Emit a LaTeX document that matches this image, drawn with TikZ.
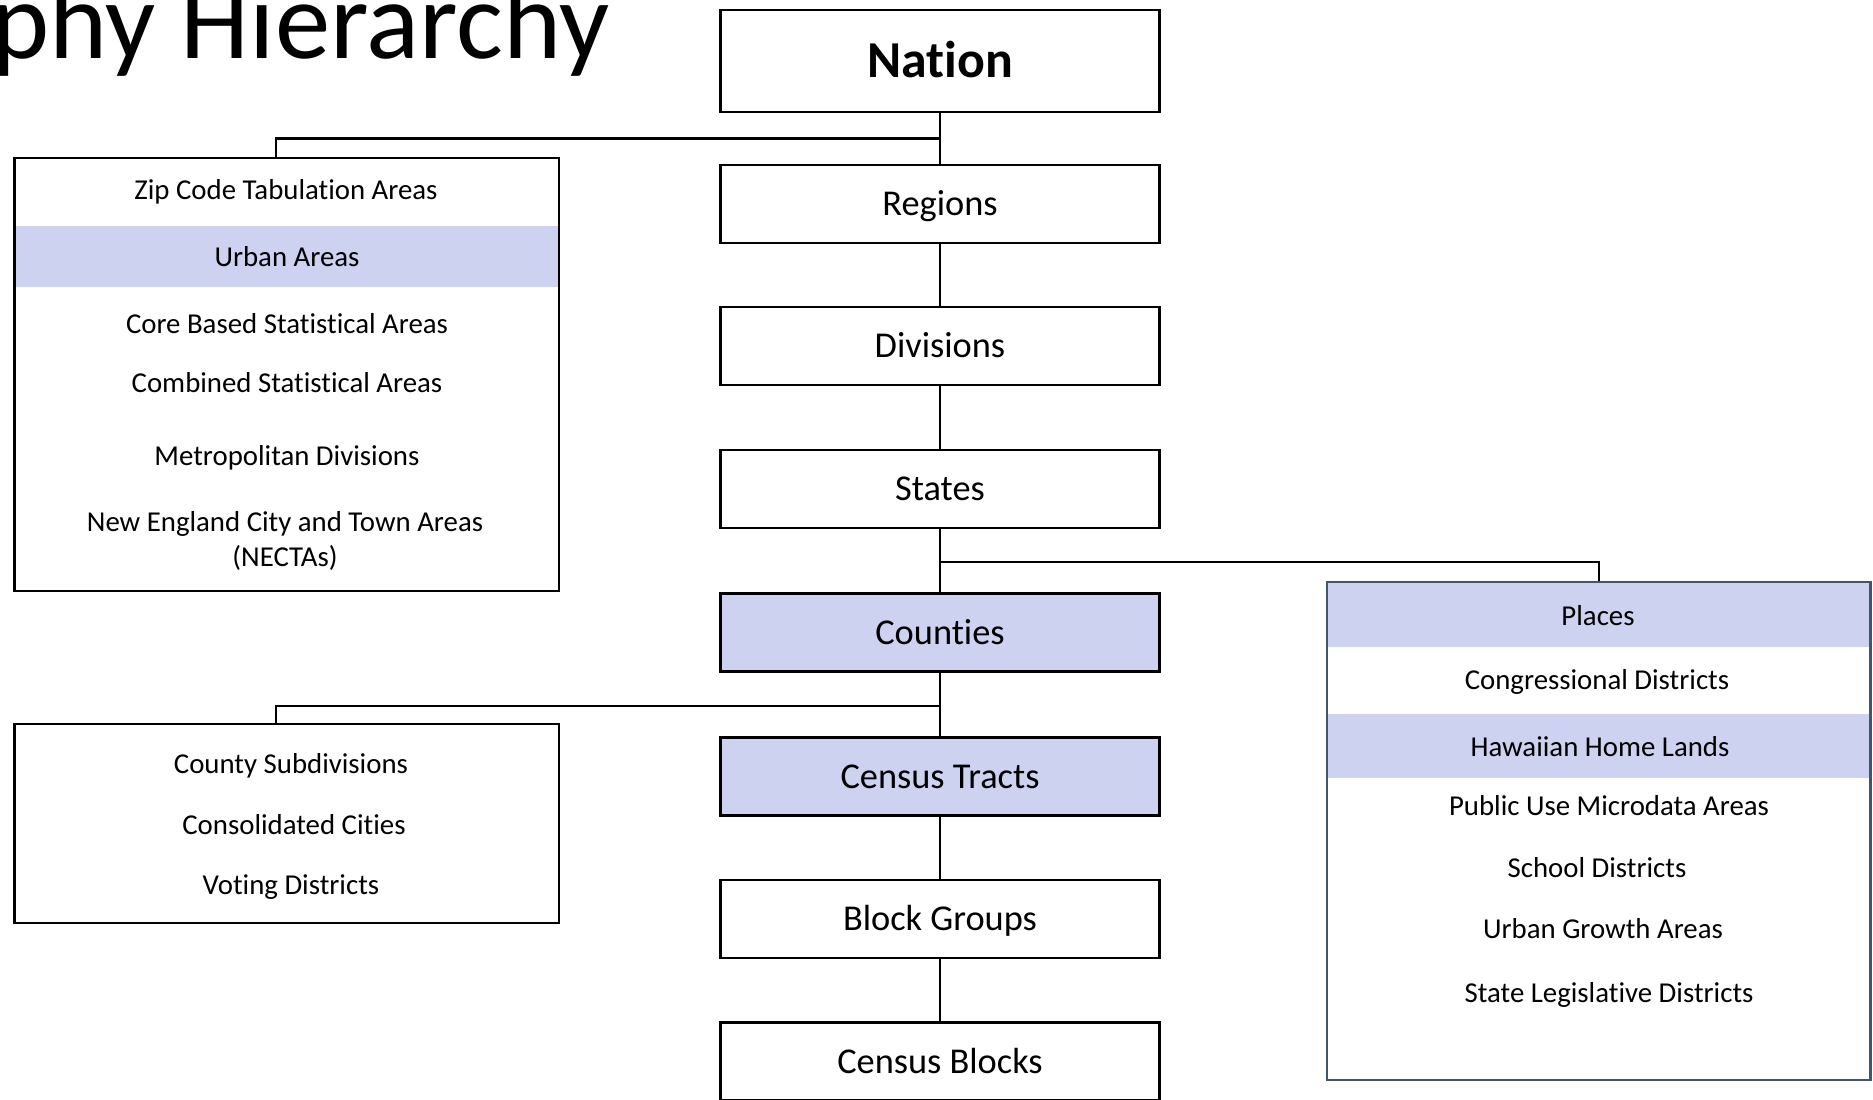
\documentclass[tikz,border=0pt]{standalone}
\usepackage{fontspec}
\setmainfont[Ligatures={NoCommon}]{Carlito}
\usepackage{tikz}
\usetikzlibrary{positioning}
\usepackage{xcolor}
\definecolor{bandblue}{RGB}{204,210,239}
\definecolor{slateedge}{RGB}{68,84,106}
\tikzset{
    tierbox/.style={
        draw,
        rectangle,
        line width=1.3pt,
        minimum width=8.78cm,
        minimum height=1.56cm,
        inner sep=0pt,
        text height=13.3pt,
        text depth=0pt,
        font=\fontsize{20.7}{24.8}\selectfont
    },
    topbox/.style={
        tierbox,
        minimum height=2.05cm,
        text height=19pt,
        font=\bfseries\fontsize{29.5}{35}\selectfont
    },
    shaded/.style={fill=bandblue},
    groupbox/.style={draw, rectangle, line width=1.3pt, inner sep=0pt},
    itemtext/.style={
        inner sep=0pt,
        text height=10.6pt,
        text depth=0pt,
        font=\fontsize{16.4}{19.7}\selectfont
    },
    link/.style={draw, line width=1.3pt},
    titletext/.style={inner sep=0pt, font=\fontsize{63}{75}\selectfont}
}

\begin{document}
\begin{tikzpicture}[x=0.02cm, y=-0.02cm]
    \useasboundingbox (0,0) rectangle (1873,1099);
    \clip (0,0) rectangle (1873,1099);

    % Title, cut off at the page edge
    \node[titletext, anchor=base east] (title) at (610,58) {phy Hierarchy};

    % Main chain of levels
    \node[topbox] (nation) at (940,61) {Nation};
    \node[tierbox] (regions) at (940,204) {Regions};
    \node[tierbox] (divisions) at (940,346) {Divisions};
    \node[tierbox] (states) at (940,489) {States};
    \node[tierbox, shaded] (counties) at (940,632.5) {Counties};
    \node[tierbox, shaded] (tracts) at (940,776.5) {Census Tracts};
    \node[tierbox] (groups) at (940,919) {Block Groups};
    \node[tierbox] (blocks) at (940,1061.5) {Census Blocks};

    % Highlight bands inside the side boxes
    \fill[bandblue] (15,226) rectangle (558,287);
    \fill[bandblue] (1328,583) rectangle (1870,647);
    \fill[bandblue] (1328,714) rectangle (1870,778);

    % Side boxes
    \node[groupbox, minimum width=10.89cm, minimum height=8.67cm] (metrobox) at (286.7,374.5) {};
    \node[groupbox, minimum width=10.89cm, minimum height=3.99cm] (subbox) at (286.7,823.6) {};
    \node[groupbox, draw=slateedge, minimum width=10.87cm, minimum height=9.96cm] (placebox) at (1598.8,830.8) {};

    % Items of the upper left box
    \node[itemtext] (zcta) at (286,190) {Zip Code Tabulation Areas};
    \node[itemtext] (urban) at (287,257) {Urban Areas};
    \node[itemtext] (cbsa) at (287,324) {Core Based Statistical Areas};
    \node[itemtext] (csa) at (287,383) {Combined Statistical Areas};
    \node[itemtext] (metdiv) at (287,456) {Metropolitan Divisions};
    \node[itemtext, text height=, text depth=, align=center] (necta) at (285,541) {New England City and Town Areas\\(NECTAs)};

    % Items of the lower left box
    \node[itemtext] (cousub) at (291,764) {County Subdivisions};
    \node[itemtext] (concity) at (294,825) {Consolidated Cities};
    \node[itemtext] (vtd) at (291,885) {Voting Districts};

    % Items of the right box
    \node[itemtext] (places) at (1598,616) {Places};
    \node[itemtext] (cd) at (1597,680) {Congressional Districts};
    \node[itemtext] (hhl) at (1600,747) {Hawaiian Home Lands};
    \node[itemtext] (puma) at (1609,806) {Public Use Microdata Areas};
    \node[itemtext] (schools) at (1597,868) {School Districts};
    \node[itemtext] (uga) at (1603,929) {Urban Growth Areas};
    \node[itemtext] (sld) at (1609,993) {State Legislative Districts};

    % Connectors
    \coordinate (metroTop) at (276,158);
    \coordinate (subTop) at (276,724);
    \draw[link] (nation) -- (regions);
    \draw[link] (regions) -- (divisions);
    \draw[link] (divisions) -- (states);
    \draw[link] (states) -- (counties);
    \draw[link] (counties) -- (tracts);
    \draw[link] (tracts) -- (groups);
    \draw[link] (groups) -- (blocks);
    \draw[link] (nation.south) ++(0,25) -| (metroTop);
    \draw[link] (states.south) ++(0,33) -| (placebox.north);
    \draw[link] (counties.south) ++(0,33.5) -| (subTop);
\end{tikzpicture}
\end{document}
